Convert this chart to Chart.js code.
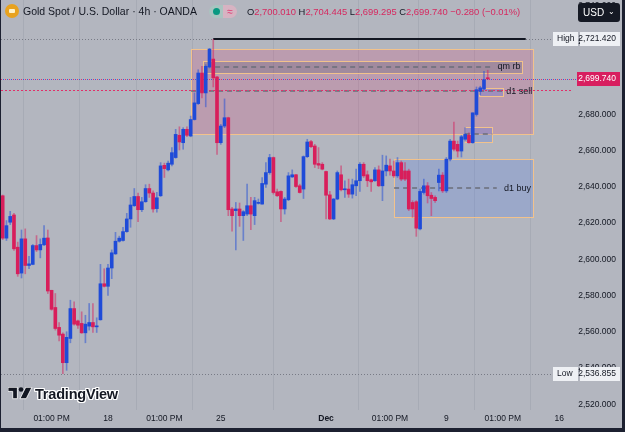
<!DOCTYPE html>
<html>
<head>
<meta charset="utf-8">
<script src="https://cdn.jsdelivr.net/npm/chart.js@4"></script>
<style>
  html, body { margin: 0; padding: 0; background: #b3b6bf; }
  #wrap { position: relative; width: 625px; height: 432px; overflow: hidden; font-family: "Liberation Sans", Arial, sans-serif; }
  #chart { position: absolute; left: 0; top: 0; }
  .hd { position: absolute; top: 5px; font-size: 10.5px; color: #131722; white-space: nowrap; line-height: 13px; }
  .coin { position: absolute; left: 5px; top: 4px; width: 14px; height: 14px; border-radius: 50%; background: #e8a21e; }
  .coin:after { content: ""; position: absolute; left: 4px; top: 5px; width: 6px; height: 4px; background: #fff2c8; border-radius: 1px; }
  .pill { position: absolute; top: 5px; height: 13px; width: 14px; }
  .ohlc { position: absolute; top: 5px; font-size: 9.4px; line-height: 13px; white-space: nowrap; color: #131722; }
  .ohlc b { font-weight: normal; color: #d6285f; }
  #usd { position: absolute; left: 578px; top: 3px; width: 42px; height: 19px; background: #151924; border-radius: 3px; color: #fff; font-size: 10px; line-height: 19px; }
  #logo { position: absolute; left: 8px; top: 386px; font-weight: bold; font-size: 14.5px; color: #131722; letter-spacing: -0.2px;
          text-shadow: -1px 0 #fff, 1px 0 #fff, 0 -1px #fff, 0 1px #fff, 1px 1px #fff, -1px -1px #fff, 1px -1px #fff, -1px 1px #fff; }
</style>
</head>
<body>
<div id="wrap">
  <canvas id="chart" width="625" height="432"></canvas>
  <div class="coin"></div>
  <div class="hd" style="left:23px">Gold Spot / U.S. Dollar · 4h · OANDA</div>
  <div class="pill" style="left:209px;background:#a9c4c0;border-radius:7px 0 0 7px"><span style="position:absolute;left:4px;top:3px;width:7px;height:7px;border-radius:50%;background:#089981"></span></div>
  <div class="pill" style="left:223px;background:#d7b3c2;border-radius:0 7px 7px 0;color:#e0306a;font-size:10px;text-align:center;line-height:13px">≈</div>
  <div class="ohlc" style="left:247px">O<b>2,700.010</b>&nbsp;H<b>2,704.445</b>&nbsp;L<b>2,699.295</b>&nbsp;C<b>2,699.740</b>&nbsp;<b>−0.280 (−0.01%)</b></div>
  <div id="usd"><span style="position:absolute;left:5px">USD</span><span style="position:absolute;right:5px;top:-1px;font-size:8px">⌄</span></div>
  <div id="logo">
    <svg width="25" height="13" viewBox="0 0 24 12" style="vertical-align:-1px;margin-right:2px">
      <path d="M0 0 H9 V11 H4.5 V4 H0 Z" fill="#131722" stroke="#fff" stroke-width="0.8"/>
      <circle cx="12.5" cy="2.2" r="2.2" fill="#131722"/>
      <path d="M17 0 H23 L17.5 11 H11.5 Z" fill="#131722" stroke="#fff" stroke-width="0.8"/>
    </svg>TradingView</div>
</div>
<script>
// 4h candles (index 0 = first visible candle)
const OPEN = [2635.1, 2611.7, 2620.5, 2624.5, 2606.7, 2592.4, 2611.3, 2596.6, 2597.2, 2607.6,
  2605.2, 2608.0, 2611.8, 2582.9, 2573.4, 2562.4, 2558.7, 2542.9, 2556.3, 2572.8,
  2566.0, 2564.6, 2559.4, 2563.1, 2565.1, 2562.7, 2566.6, 2586.5, 2585.1, 2595.2,
  2603.0, 2610.0, 2610.4, 2615.3, 2622.3, 2629.6, 2634.7, 2627.4, 2631.8, 2639.1,
  2636.6, 2628.0, 2635.1, 2651.9, 2649.4, 2652.5, 2656.2, 2668.5, 2664.4, 2671.8,
  2668.1, 2677.2, 2686.0, 2702.9, 2691.9, 2706.2, 2710.6, 2700.7, 2664.4, 2673.6,
  2678.2, 2627.8, 2626.9, 2627.8, 2624.1, 2625.0, 2629.6, 2624.1, 2630.9, 2630.5,
  2641.5, 2647.9, 2656.2, 2637.3, 2637.5, 2627.8, 2632.9, 2645.5, 2646.7, 2640.6,
  2638.8, 2656.7, 2665.0, 2662.6, 2652.9, 2652.5, 2648.5, 2635.6, 2622.3, 2633.3,
  2646.7, 2638.4, 2638.8, 2636.0, 2640.6, 2643.4, 2652.5, 2646.7, 2643.9, 2643.4,
  2649.4, 2640.6, 2648.8, 2651.6, 2648.8, 2646.1, 2653.4, 2648.8, 2648.8, 2631.4,
  2631.8, 2616.8, 2636.9, 2640.6, 2635.4, 2634.2, 2642.4, 2646.5, 2637.8, 2655.3,
  2665.3, 2663.5, 2659.8, 2666.3, 2668.5, 2664.4, 2680.0, 2692.8, 2694.1, 2700.01];
const HIGH = [2635.5, 2621.4, 2626.5, 2625.4, 2609.5, 2616.2, 2616.8, 2601.6, 2608.2, 2613.1,
  2611.3, 2618.6, 2616.2, 2582.9, 2581.1, 2565.1, 2559.4, 2560.0, 2577.4, 2576.5,
  2566.4, 2571.0, 2569.1, 2575.6, 2575.6, 2567.7, 2597.2, 2594.8, 2597.2, 2605.2,
  2614.9, 2612.8, 2617.7, 2625.4, 2634.2, 2639.1, 2636.6, 2634.2, 2641.2, 2641.5,
  2637.8, 2637.0, 2653.4, 2653.1, 2654.3, 2661.7, 2671.8, 2673.2, 2672.7, 2673.2,
  2679.1, 2691.9, 2704.7, 2706.6, 2707.5, 2716.5, 2721.42, 2701.1, 2674.5, 2688.6,
  2678.5, 2628.7, 2631.4, 2631.1, 2626.9, 2641.5, 2634.2, 2634.2, 2633.3, 2645.2,
  2653.4, 2658.0, 2656.5, 2638.8, 2637.8, 2634.2, 2647.9, 2649.4, 2647.0, 2641.5,
  2657.1, 2666.3, 2665.7, 2663.5, 2661.7, 2653.4, 2648.8, 2637.5, 2633.6, 2648.8,
  2651.6, 2643.4, 2644.3, 2644.3, 2649.8, 2653.4, 2653.4, 2648.8, 2644.3, 2650.7,
  2651.6, 2657.5, 2657.1, 2655.3, 2654.3, 2656.2, 2654.3, 2653.4, 2649.8, 2632.4,
  2632.4, 2638.8, 2644.3, 2642.4, 2636.9, 2635.1, 2649.8, 2647.9, 2656.2, 2666.3,
  2675.8, 2665.3, 2668.5, 2672.7, 2669.9, 2680.9, 2695.2, 2695.6, 2703.8, 2704.445];
const LOW = [2610.9, 2610.4, 2619.2, 2604.9, 2590.6, 2589.7, 2592.0, 2594.8, 2597.0, 2604.3,
  2600.8, 2607.6, 2581.1, 2571.9, 2560.9, 2555.0, 2536.855, 2538.7, 2553.9, 2563.6,
  2561.8, 2559.1, 2553.9, 2560.9, 2559.6, 2559.6, 2566.4, 2584.7, 2580.1, 2589.3,
  2602.7, 2609.5, 2610.0, 2614.9, 2617.7, 2629.2, 2620.8, 2626.3, 2631.5, 2634.2,
  2626.0, 2626.0, 2634.7, 2645.2, 2648.8, 2651.6, 2655.8, 2660.4, 2660.8, 2667.7,
  2667.7, 2676.9, 2685.5, 2689.2, 2684.2, 2705.7, 2695.2, 2658.0, 2663.5, 2672.7,
  2624.1, 2615.5, 2605.2, 2618.2, 2610.4, 2624.1, 2616.4, 2619.2, 2630.5, 2630.5,
  2639.7, 2647.0, 2636.0, 2634.7, 2620.8, 2625.0, 2632.4, 2645.2, 2639.7, 2636.6,
  2633.6, 2656.2, 2661.7, 2650.7, 2650.1, 2649.4, 2622.3, 2621.9, 2621.9, 2632.9,
  2637.8, 2634.2, 2634.2, 2633.8, 2635.1, 2637.5, 2645.2, 2640.2, 2637.5, 2643.0,
  2640.2, 2632.4, 2646.1, 2646.5, 2645.2, 2645.2, 2643.4, 2643.4, 2626.9, 2623.2,
  2612.7, 2616.2, 2636.0, 2631.1, 2624.1, 2631.4, 2637.8, 2636.9, 2636.9, 2654.3,
  2659.8, 2656.5, 2656.5, 2665.3, 2664.1, 2664.1, 2679.1, 2691.0, 2693.7, 2699.295];
const CLOSE = [2611.7, 2618.6, 2623.7, 2605.8, 2592.0, 2611.3, 2596.6, 2597.5, 2607.6, 2605.2,
  2608.2, 2611.7, 2582.5, 2572.4, 2561.8, 2558.1, 2542.9, 2556.9, 2572.8, 2564.2,
  2563.6, 2559.4, 2564.2, 2565.1, 2562.7, 2563.1, 2586.5, 2585.1, 2595.2, 2603.6,
  2610.0, 2611.7, 2615.3, 2622.3, 2630.0, 2634.7, 2627.4, 2631.8, 2639.1, 2636.6,
  2627.8, 2634.0, 2651.6, 2650.1, 2653.1, 2658.9, 2669.0, 2664.8, 2671.8, 2668.5,
  2677.2, 2686.4, 2702.9, 2691.9, 2706.6, 2716.1, 2700.2, 2664.4, 2673.6, 2678.2,
  2627.4, 2624.1, 2627.8, 2624.1, 2626.3, 2629.6, 2625.0, 2632.4, 2631.4, 2641.9,
  2647.9, 2656.2, 2636.9, 2635.1, 2627.8, 2633.3, 2646.1, 2646.7, 2640.2, 2636.9,
  2656.7, 2664.8, 2662.2, 2652.5, 2652.0, 2649.8, 2635.4, 2622.3, 2633.3, 2647.9,
  2638.4, 2638.8, 2636.0, 2641.2, 2643.4, 2652.5, 2646.1, 2643.4, 2642.8, 2649.4,
  2640.6, 2648.8, 2652.0, 2648.8, 2646.1, 2653.4, 2644.3, 2644.3, 2627.8, 2627.8,
  2617.2, 2637.5, 2640.6, 2635.1, 2633.6, 2632.4, 2646.5, 2637.8, 2655.3, 2665.3,
  2660.8, 2659.8, 2667.7, 2669.0, 2664.4, 2680.9, 2693.7, 2694.7, 2699.2, 2699.74];

const TIME_TICKS = [13, 28, 43, 58, 86, 103, 118, 133, 148];
const TIME_LABELS = ["01:00 PM", "18", "01:00 PM", "25", "Dec", "01:00 PM", "9", "01:00 PM", "16"];

const LAST_PRICE = 2699.74;
const HIGH_PRICE = 2721.42;
const LOW_PRICE = 2536.855;
const PREV_CLOSE = 2693.4;

// drawn zones: [from index, to index, top price, bottom price]
const SUPPLY_ZONE = [50.1, 140.95, 2716.1, 2669.0];
const QM_ZONE = [53.2, 138.0, 2709.3, 2702.9];
const SELL_BOX = [126.8, 133.1, 2694.7, 2690.1];
const MID_BOX = [122.9, 130.2, 2673.2, 2665.0];
const BUY_ZONE = [104.1, 140.95, 2655.3, 2623.2];
// dashed levels: [from index, to index, price]
const QM_LEVEL = [56.5, 130.4, 2706.4];
const SELL_LEVEL = [50.1, 133.1, 2692.8];
const MID_LEVEL = [122.9, 130.2, 2669.0];
const BUY_LEVEL = [104.1, 131.4, 2639.2];
const HIGH_RAY = [56, 139.1, 2721.42];

const BLUE = "#1f4bd8", RED = "#d81e5b";
const BLUE_W = "rgba(31,75,216,0.5)", RED_W = "rgba(216,30,91,0.5)";
const FONT = "Liberation Sans, Arial, sans-serif";

const bodies = OPEN.map((o, i) => ({ x: i, y: [o, CLOSE[i]] }));
const wicks = OPEN.map((o, i) => ({ x: i, y: [LOW[i], HIGH[i]] }));
const up = OPEN.map((o, i) => CLOSE[i] >= o);

function fmt(v) {
  return v.toLocaleString("en-US", { minimumFractionDigits: 3, maximumFractionDigits: 3 });
}

const overlay = {
  id: "overlay",
  beforeDatasetsDraw(chart) {
    const { ctx, scales: { x, y }, chartArea: a } = chart;
    const X = v => x.getPixelForValue(v), Y = v => y.getPixelForValue(v);
    ctx.save();
    function rect(z, fill, stroke) {
      const x0 = Math.round(X(z[0])) + 0.5, x1 = Math.round(X(z[1])) + 0.5;
      const y0 = Math.round(Y(z[2])) + 0.5, y1 = Math.round(Y(z[3])) + 0.5;
      ctx.fillStyle = fill;
      ctx.fillRect(x0, y0, x1 - x0, y1 - y0);
      ctx.strokeStyle = stroke; ctx.lineWidth = 1; ctx.setLineDash([]);
      ctx.strokeRect(x0, y0, x1 - x0, y1 - y0);
    }
    function hline(x0, x1, p, color, w, dash) {
      const yy = Math.round(Y(p)) + (w % 2 ? 0.5 : 0);
      ctx.beginPath(); ctx.strokeStyle = color; ctx.lineWidth = w; ctx.setLineDash(dash);
      ctx.moveTo(x0, yy); ctx.lineTo(x1, yy); ctx.stroke();
    }
    rect(SUPPLY_ZONE, "rgba(233,30,99,0.17)", "#f2c28c");
    rect(QM_ZONE, "rgba(95,95,115,0.28)", "#f2c28c");
    rect(BUY_ZONE, "rgba(41,98,255,0.17)", "#f2c28c");
    rect(MID_BOX, "rgba(60,100,230,0.22)", "#f2c28c");
    rect(SELL_BOX, "rgba(60,100,230,0.22)", "#f2c28c");
    const dashCol = "rgba(105,108,120,0.75)";
    [QM_LEVEL, SELL_LEVEL, MID_LEVEL, BUY_LEVEL].forEach(l => hline(X(l[0]), X(l[1]), l[2], dashCol, 2, [5, 4]));
    // high / low markers
    hline(a.left, 553, HIGH_PRICE, "#787b86", 1, [1, 2]);
    hline(a.left, 553, LOW_PRICE, "#787b86", 1, [1, 2]);
    hline(X(HIGH_RAY[0]), X(HIGH_RAY[1]), HIGH_RAY[2], "#131722", 2, []);
    // price lines
    hline(a.left, a.right - 4, PREV_CLOSE, "#e0306a", 1, [2, 2]);
    hline(a.left, a.right, LAST_PRICE, "#e0306a", 1, [1, 3]);
    ctx.lineDashOffset = 2;
    hline(a.left, a.right, LAST_PRICE, "#3d5cd9", 1, [1, 3]);
    ctx.lineDashOffset = 0;
    ctx.restore();
  },
  afterDatasetsDraw(chart) {
    const { ctx, scales: { x, y } } = chart;
    ctx.save();
    ctx.fillStyle = "#131722";
    ctx.font = "9px " + FONT;
    ctx.textBaseline = "middle";
    ctx.fillText("qm rb", x.getPixelForValue(131.6), y.getPixelForValue(QM_LEVEL[2]));
    ctx.fillText("d1 sell", x.getPixelForValue(133.9), y.getPixelForValue(2692.6));
    ctx.fillText("d1 buy", x.getPixelForValue(133.3), y.getPixelForValue(BUY_LEVEL[2]));
    ctx.restore();
  },
  afterDraw(chart) {
    const { ctx, scales: { y } } = chart;
    ctx.save();
    ctx.font = "8.5px " + FONT;
    ctx.textBaseline = "middle";
    function box(x0, x1, cy, bg, fg, text, align) {
      ctx.fillStyle = bg;
      ctx.fillRect(x0, Math.round(cy) - 7, x1 - x0, 14);
      ctx.fillStyle = fg;
      ctx.textAlign = align;
      ctx.fillText(text, align === "right" ? x1 - 4 : x0 + 4, Math.round(cy));
    }
    const hy = y.getPixelForValue(HIGH_PRICE), ly = y.getPixelForValue(LOW_PRICE), cy = y.getPixelForValue(LAST_PRICE);
    box(553, 578, hy, "#eef0f4", "#131722", "High", "left");
    box(580, 620, hy, "#eef0f4", "#131722", fmt(HIGH_PRICE), "right");
    box(553, 578, ly, "#eef0f4", "#131722", "Low", "left");
    box(580, 620, ly, "#eef0f4", "#131722", fmt(LOW_PRICE), "right");
    box(577, 620, cy, "#d81e5f", "#ffffff", fmt(LAST_PRICE), "right");
    // window borders
    ctx.fillStyle = "#1c2030";
    ctx.fillRect(0, 0, 1, 432);
    ctx.fillRect(622, 0, 3, 432);
    ctx.fillRect(0, 428, 625, 4);
    ctx.restore();
  }
};

new Chart(document.getElementById("chart"), {
  type: "bar",
  data: {
    datasets: [
      { data: bodies, backgroundColor: up.map(u => u ? BLUE : RED), barThickness: 3, minBarLength: 1, grouped: false, order: 0 },
      { data: wicks, backgroundColor: up.map(u => u ? BLUE_W : RED_W), barThickness: 1, grouped: false, order: 1 }
    ]
  },
  options: {
    responsive: false,
    animation: false,
    events: [],
    layout: { padding: { left: 1, right: 9, top: 0, bottom: 4 } },
    plugins: { legend: { display: false }, tooltip: { enabled: false } },
    scales: {
      x: {
        type: "linear", min: -0.45, max: 152.74, offset: false,
        afterBuildTicks: s => { s.ticks = TIME_TICKS.map(v => ({ value: v })); },
        afterFit: s => { s.height = 18; s.paddingLeft = 0; s.paddingRight = 0; },
        grid: { color: "rgba(95,100,115,0.13)", drawTicks: false },
        border: { display: false },
        ticks: {
          autoSkip: false, maxRotation: 0, padding: 4, color: "#131722",
          callback: v => TIME_LABELS[TIME_TICKS.indexOf(v)],
          font: c => ({ family: FONT, size: 8.5, weight: c.tick && c.tick.value === 86 ? "bold" : "normal" })
        }
      },
      y: {
        position: "right", min: 2516.78, max: 2743.22,
        afterFit: s => { s.width = 39; s.paddingTop = 0; s.paddingBottom = 0; },
        grid: { display: false },
        border: { display: false },
        ticks: { stepSize: 20, includeBounds: false, crossAlign: "far", padding: 0, color: "#131722",
                 font: { family: FONT, size: 8.5 }, callback: v => fmt(v) }
      }
    }
  },
  plugins: [overlay]
});
</script>
</body>
</html>
